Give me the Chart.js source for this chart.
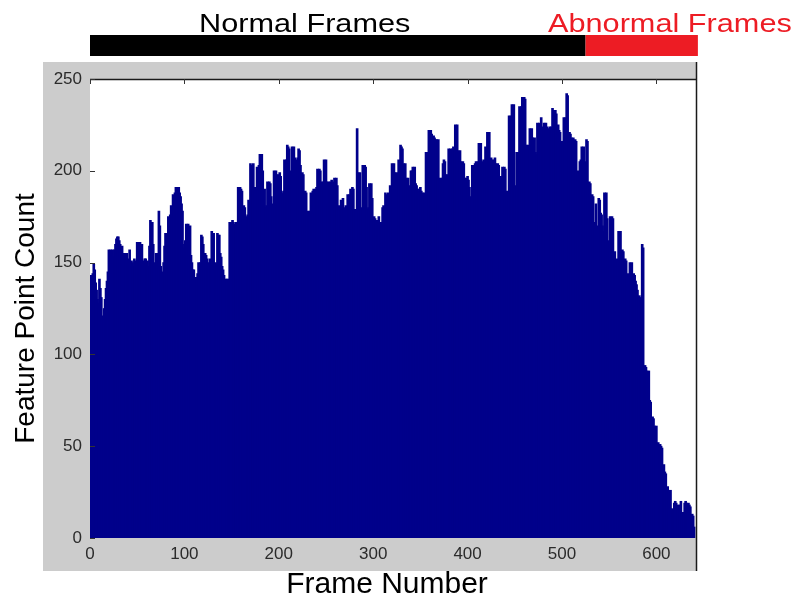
<!DOCTYPE html>
<html>
<head>
<meta charset="utf-8">
<script src="https://cdn.jsdelivr.net/npm/chart.js@4.4.1/dist/chart.umd.min.js"></script>
<style>
  html, body { margin: 0; padding: 0; background: #fff; }
  #wrap { position: relative; width: 798px; height: 603px; overflow: hidden; }
  #c { position: absolute; left: 0; top: 0; }
  .seg { position: absolute; top: 9.5px; font-family: 'Liberation Sans', Arial, sans-serif; font-size: 26px; line-height: 26px; white-space: nowrap; transform: scaleX(1.18); transform-origin: left top; }
</style>
</head>
<body>
<div id="wrap">
  <canvas id="c" width="798" height="603"></canvas>
  <div class="seg" id="lab0" style="left:199px;color:#000;"></div>
  <div class="seg" id="lab1" style="left:548px;color:#ed1c24;"></div>
</div>
<script>
// ---- data ----
const featureCounts = [
143,141,144,149,146,139,135,130,128,141,
136,131,120,121,125,130,136,140,145,157,
156,157,155,157,153,157,160,163,164,164,
162,160,158,159,148,155,154,155,155,150,
152,157,148,151,150,148,152,148,151,161,
161,160,161,159,160,142,151,152,152,150,
151,148,159,173,168,172,160,149,150,155,
152,155,178,170,148,143,145,150,159,166,
166,166,175,172,176,181,180,187,185,188,
191,190,191,191,188,186,182,178,158,160,
162,171,170,171,169,170,154,150,146,146,
141,142,141,144,150,148,150,165,164,160,
155,155,154,152,150,148,152,150,167,166,
166,148,150,149,166,165,165,155,153,148,
146,143,140,141,141,140,141,172,171,172,
173,172,171,170,172,170,191,173,191,190,
189,180,181,180,175,174,176,184,183,204,
203,200,204,190,191,189,202,201,203,209,
208,209,200,189,190,180,181,194,193,194,
193,186,180,182,200,199,200,198,197,198,
199,197,188,187,189,206,205,206,214,213,
212,199,200,213,212,213,207,205,206,207,
212,211,203,198,199,198,188,189,188,177,
178,177,178,188,187,189,190,177,190,191,
201,200,201,200,194,193,194,206,205,206,
194,182,194,193,194,195,193,194,196,195,
196,192,180,181,180,184,183,185,180,179,
181,180,187,186,187,190,189,191,190,179,
178,179,223,199,198,199,179,180,203,202,
203,202,191,179,180,193,192,193,185,173,
175,174,173,172,173,175,171,172,171,180,
181,180,188,181,187,188,186,192,191,204,
203,204,199,198,199,196,206,205,214,213,
212,204,203,204,196,195,196,191,192,200,
200,202,201,202,193,192,190,189,190,191,
189,188,187,188,187,210,209,210,222,221,
222,220,210,219,218,217,217,216,217,195,
196,195,196,204,206,205,198,197,198,212,
211,212,211,212,213,211,225,224,225,211,
210,211,205,204,205,204,196,195,196,197,
195,191,185,186,203,202,203,204,205,204,
205,215,214,215,205,204,206,205,213,212,
221,220,221,206,207,206,205,206,207,204,
203,204,203,188,197,196,202,201,202,201,
188,189,188,230,229,230,236,235,236,191,
192,210,209,210,235,234,235,240,239,240,
239,214,213,214,213,223,222,223,218,217,
218,210,209,226,225,226,216,229,224,219,
226,225,226,224,223,210,224,223,224,234,
233,232,233,231,224,225,222,221,215,216,
215,229,228,229,242,241,220,221,220,218,
217,218,216,217,216,199,200,199,205,206,
213,212,213,204,205,217,216,193,194,193,
186,187,186,171,172,182,170,167,185,184,
177,176,170,167,188,187,188,174,161,162,
175,174,175,174,155,156,151,152,151,167,
166,167,156,157,156,151,152,151,143,144,
143,150,149,150,143,144,143,140,138,135,
131,132,131,130,160,158,93,94,93,91,
90,91,75,74,65,66,65,61,60,61,
51,52,50,51,50,49,39,40,36,35,
27,28,26,25,26,15,16,15,19,20,
19,17,18,17,18,20,13,14,13,19,
20,19,18,19,18,17,12,13,12,6
];
const xTickValues = [0, 100, 200, 300, 400, 500, 600];
const yTickValues = [0, 50, 100, 150, 200, 250];
const segmentLabels = ['Normal Frames', 'Abnormal Frames'];
const segmentStarts = [0, 525];
const segmentEnds = [525, 644];
const segmentColors = ['#000000', '#ed1c24'];
const xTitle = 'Frame Number';
const yTitle = 'Feature Point Count';

// frame numbers (category positions) 1..N
const frameNumbers = featureCounts.map((_, i) => i + 1);

document.getElementById('lab0').textContent = segmentLabels[0];
document.getElementById('lab1').textContent = segmentLabels[1];

const FONT = "'Liberation Sans', Arial, sans-serif";

// shift an axis title a few pixels along its axis
function shiftTitle(dx, dy) {
  return function (scale) {
    if (scale._titleShifted) return;
    scale._titleShifted = true;
    const orig = scale.drawTitle.bind(scale);
    scale.drawTitle = function () {
      const ctx = scale.ctx;
      ctx.save();
      ctx.translate(dx, dy);
      orig();
      ctx.restore();
    };
  };
}

const framePlugin = {
  id: 'matlabFrame',
  beforeDraw(chart) {
    const { ctx, chartArea: a } = chart;
    ctx.save();
    ctx.fillStyle = '#ffffff';
    ctx.fillRect(0, 0, chart.width, chart.height);
    ctx.fillStyle = '#cccccc';
    ctx.fillRect(a.left - 47, a.top - 17, a.right - a.left + 47, a.bottom - a.top + 17 + 33);
    ctx.fillStyle = '#ffffff';
    ctx.fillRect(a.left, a.top, a.right - a.left, a.bottom - a.top);
    ctx.restore();
  },
  afterDraw(chart) {
    const { ctx, chartArea: a, scales } = chart;
    const xs = scales.x, ys = scales.y;
    ctx.save();
    // top axis line and right line
    ctx.strokeStyle = '#1a1a1a';
    ctx.lineWidth = 1.5;
    ctx.beginPath();
    ctx.moveTo(a.left, a.top + 0.5);
    ctx.lineTo(a.right, a.top + 0.5);
    ctx.moveTo(a.right + 0.5, a.top - 17);
    ctx.lineTo(a.right + 0.5, a.bottom + 33);
    ctx.stroke();
    // inward tick marks
    ctx.lineWidth = 1;
    ctx.strokeStyle = '#333333';
    ctx.beginPath();
    xTickValues.forEach(v => {
      const px = Math.round(xs.getPixelForValue(v)) + 0.5;
      ctx.moveTo(px, a.top);
      ctx.lineTo(px, a.top + 5);
    });
    yTickValues.forEach(v => {
      const py = Math.round(ys.getPixelForValue(v)) + 0.5;
      ctx.moveTo(a.left, py);
      ctx.lineTo(a.left + 5, py);
    });
    ctx.stroke();
    // top segment bar
    for (let i = 0; i < segmentStarts.length; i++) {
      const x0 = xs.getPixelForValue(segmentStarts[i]);
      const x1 = xs.getPixelForValue(segmentEnds[i]);
      ctx.fillStyle = segmentColors[i];
      ctx.fillRect(x0, a.top - 44, x1 - x0, 21);
    }
    ctx.restore();
  }
};

new Chart(document.getElementById('c'), {
  type: 'bar',
  data: {
    labels: frameNumbers,
    datasets: [{
      label: yTitle,
      data: featureCounts,
      backgroundColor: '#00008b',
      borderWidth: 0,
      barThickness: 2,
      categoryPercentage: 1,
      barPercentage: 1
    }]
  },
  options: {
    responsive: false,
    animation: false,
    devicePixelRatio: 1,
    layout: { padding: { top: 79, right: 102, bottom: 0, left: 0 } },
    plugins: { legend: { display: false }, tooltip: { enabled: false } },
    scales: {
      x: {
        type: 'linear',
        offset: false,
        min: 0,
        max: 642,
        grid: { display: false, drawTicks: false, offset: false },
        border: { display: false },
        afterFit(scale) { scale.height = 65; },
        afterBuildTicks(scale) { scale.ticks = xTickValues.map(v => ({ value: v })); },
        afterUpdate: shiftTitle(-6, 0),
        ticks: {
          includeBounds: false,
          padding: 6,
          color: '#2b2b2b',
          font: { family: FONT, size: 17 },
          maxRotation: 0,
          autoSkip: false
        },
        title: {
          display: true,
          text: xTitle,
          color: '#000',
          font: { family: FONT, size: 30 },
          padding: 0
        }
      },
      y: {
        min: 0,
        max: 250,
        grid: { display: false, drawTicks: false },
        border: { display: false },
        afterFit(scale) { scale.width = 90; },
        afterBuildTicks(scale) { scale.ticks = yTickValues.map(v => ({ value: v })); },
        afterUpdate: shiftTitle(0, 10),
        ticks: {
          padding: 8,
          color: '#2b2b2b',
          font: { family: FONT, size: 17 }
        },
        title: {
          display: true,
          text: yTitle,
          color: '#000',
          font: { family: FONT, size: 28 },
          padding: 9
        }
      }
    }
  },
  plugins: [framePlugin]
});
</script>
</body>
</html>
